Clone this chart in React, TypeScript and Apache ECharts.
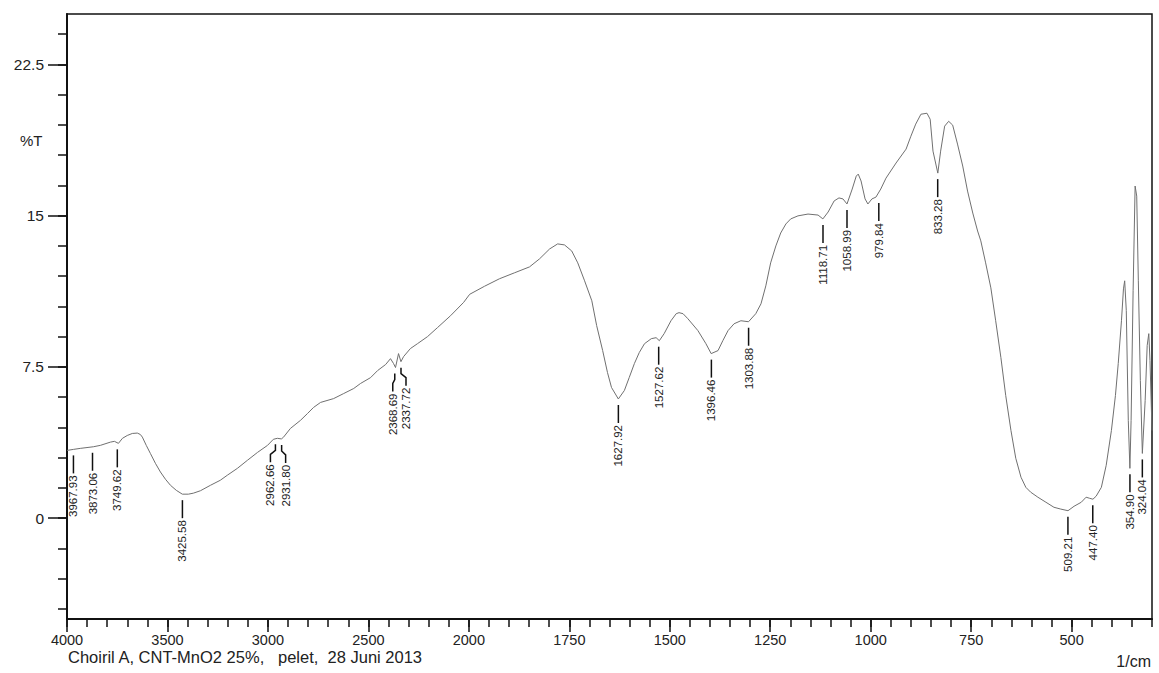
import React, { useEffect, useRef } from "react";
import * as echarts from "echarts";

// ---- Data ----
const wavenumbers = [
  4000, 3968, 3934, 3869, 3834, 3784, 3764, 3744, 3724, 3700, 3675, 3650, 3635, 3625, 3605, 3585,
  3560, 3535, 3510, 3485, 3456, 3426, 3396, 3371, 3336, 3286, 3237, 3202, 3152, 3102, 3052, 3002,
  2973, 2953, 2933, 2923, 2888, 2838, 2803, 2773, 2738, 2673, 2623, 2573, 2539, 2489, 2454, 2414,
  2390, 2375, 2365, 2350, 2338, 2325, 2291, 2256, 2206, 2156, 2091, 2026, 1998, 1961, 1924, 1886,
  1849, 1824, 1799, 1779, 1762, 1744, 1729, 1712, 1694, 1682, 1667, 1655, 1645, 1628, 1613, 1601,
  1588, 1576, 1563, 1546, 1534, 1526, 1514, 1497, 1484, 1477, 1467, 1455, 1430, 1410, 1397, 1380,
  1368, 1355, 1340, 1323, 1304, 1286, 1273, 1261, 1249, 1236, 1224, 1211, 1199, 1181, 1156, 1131,
  1119, 1106, 1091, 1079, 1069, 1059, 1046, 1036, 1031, 1024, 1014, 1007, 997, 987, 975, 962,
  937, 912, 900, 888, 875, 860, 852, 845, 833, 826, 816, 806, 796, 784, 771, 759,
  746, 734, 726, 714, 701, 689, 676, 664, 651, 639, 626, 614, 602, 584, 564, 544,
  527, 509, 494, 476, 464, 456, 447, 439, 426, 414, 401, 391, 384, 376, 371, 368,
  364, 359, 355, 352, 347, 342, 338, 334, 329, 324, 317, 312, 308, 305, 300,
];
const transmittance = [
  3.36, 3.41, 3.46, 3.54, 3.61, 3.77, 3.81, 3.71, 3.96, 4.1, 4.2, 4.22, 4.15, 4.02, 3.6, 3.21,
  2.72, 2.29, 1.93, 1.63, 1.38, 1.19, 1.19, 1.24, 1.36, 1.63, 1.88, 2.13, 2.47, 2.87, 3.26, 3.61,
  3.91, 3.96, 3.93, 4.01, 4.45, 4.85, 5.19, 5.49, 5.74, 5.93, 6.18, 6.43, 6.68, 6.97, 7.32, 7.62,
  7.91, 7.67, 7.47, 8.16, 7.76, 8.01, 8.41, 8.65, 9.0, 9.45, 10.04, 10.7, 11.1, 11.5, 11.87, 12.17,
  12.46, 12.86, 13.35, 13.6, 13.55, 13.25, 12.66, 11.77, 10.78, 9.55, 8.31, 7.22, 6.48, 5.91, 6.33, 6.97,
  7.67, 8.21, 8.65, 8.9, 8.95, 8.8, 9.15, 9.79, 10.14, 10.19, 10.14, 9.89, 9.3, 8.65, 8.16, 8.31,
  8.8, 9.3, 9.64, 9.79, 9.74, 10.14, 10.63, 11.52, 12.66, 13.5, 14.14, 14.59, 14.84, 14.99, 15.08, 15.03,
  14.84, 15.18, 15.73, 15.88, 15.83, 15.58, 16.32, 16.96, 17.06, 16.72, 15.83, 15.58, 15.83, 15.92, 16.32, 16.86,
  17.61, 18.3, 18.94, 19.54, 20.03, 20.08, 19.78, 18.2, 17.11, 18.2, 19.44, 19.68, 19.49, 18.55, 17.46, 16.22,
  15.13, 14.24, 13.75, 12.66, 11.42, 9.79, 7.96, 6.08, 4.35, 2.97, 2.03, 1.53, 1.29, 1.04, 0.79, 0.54,
  0.45, 0.37, 0.59, 0.79, 1.04, 0.99, 0.94, 1.09, 1.53, 2.62, 4.35, 6.08, 7.67, 9.79, 11.37, 11.77,
  10.29, 4.85, 2.47, 4.85, 11.28, 16.47, 15.97, 11.77, 6.82, 3.21, 5.84, 8.56, 9.15, 7.81, 4.35,
];

const peakWavenumbers = [
  3967.93, 3873.06, 3749.62, 3425.58, 2962.66, 2931.8, 2368.69, 2337.72, 1627.92, 1527.62,
  1396.46, 1303.88, 1118.71, 1058.99, 979.84, 833.28, 509.21, 447.4, 354.9, 324.04,
];
const peakTransmittance = [
  3.41, 3.54, 3.71, 1.19, 3.96, 3.93, 7.47, 7.76, 5.91, 8.8,
  8.16, 9.74, 14.84, 15.58, 15.92, 17.11, 0.37, 0.94, 2.47, 3.21,
];
const peakLabels = [
  "3967.93", "3873.06", "3749.62", "3425.58", "2962.66", "2931.80", "2368.69", "2337.72", "1627.92", "1527.62",
  "1396.46", "1303.88", "1118.71", "1058.99", "979.84", "833.28", "509.21", "447.40", "354.90", "324.04",
];

const xTickLabels = [4000, 3500, 3000, 2500, 2000, 1750, 1500, 1250, 1000, 750, 500];
const yTickLabels = [0, 7.5, 15, 22.5];

const footerText = "Choiril A, CNT-MnO2 25%,   pelet,  28 Juni 2013";
const unitText = "1/cm";
const yName = "%T";

// ---- Layout / style config ----
const leaderShift: Record<string, number> = {
  "2962.66": -5,
  "2931.80": 4,
  "2368.69": -2,
  "2337.72": 5,
};
const FONT = "'Liberation Sans', Arial, sans-serif";

// Shimadzu-style axis: 4000-2000 at half scale, below 2000 at full scale
const toPos = (wn: number) => (wn >= 2000 ? (4000 - wn) / 2 : 1000 + (2000 - wn));
const fromPos = (p: number) => (p <= 1000 ? 4000 - 2 * p : 2000 - (p - 1000));

export default function App() {
  const ref = useRef<HTMLDivElement>(null);

  useEffect(() => {
    if (!ref.current) return;
    const chart = echarts.init(ref.current, null, { renderer: "svg" });

    const xMajor = xTickLabels.map(toPos);
    const xMinor: number[] = [];
    for (let w = 4000; w > 2000; w -= 100) xMinor.push(toPos(w));
    for (let w = 2000; w >= 300; w -= 50) xMinor.push(toPos(w));
    const yMinor: number[] = [];
    for (let v = -4.5; v <= 24.01; v += 1.5) yMinor.push(Math.round(v * 10) / 10);

    const lineData = wavenumbers.map((w, i) => [toPos(w), transmittance[i]]);
    const peakData = peakWavenumbers.map((w, i) => [toPos(w), peakTransmittance[i]]);

    chart.setOption({
      animation: false,
      grid: {
        left: 67,
        right: 7,
        top: 14,
        bottom: 54,
        show: true,
        borderColor: "#111",
        borderWidth: 1.5,
        backgroundColor: "transparent",
      },
      xAxis: [
        {
          type: "value",
          min: 0,
          max: toPos(300),
          position: "bottom",
          axisLine: { show: true, onZero: false, lineStyle: { color: "#111", width: 2 } },
          axisTick: {
            show: true,
            customValues: xMajor,
            length: 13,
            lineStyle: { color: "#111", width: 1.5 },
          },
          axisLabel: {
            show: true,
            customValues: xMajor,
            margin: 14,
            fontSize: 14.5,
            lineHeight: 14.5,
            fontFamily: FONT,
            color: "#222",
            formatter: (v: number) => String(Math.round(fromPos(v))),
          },
          splitLine: { show: false },
        },
        {
          type: "value",
          min: 0,
          max: toPos(300),
          position: "bottom",
          offset: 0,
          axisLine: { show: false, onZero: false },
          axisTick: {
            show: true,
            customValues: xMinor,
            length: 8,
            lineStyle: { color: "#111", width: 1.5 },
          },
          axisLabel: { show: false },
          splitLine: { show: false },
        },
      ],
      yAxis: [
        {
          type: "value",
          min: -5,
          max: 25,
          position: "left",
          axisLine: { show: true, onZero: false, lineStyle: { color: "#111", width: 2 } },
          axisTick: {
            show: true,
            customValues: yTickLabels,
            length: 19,
            lineStyle: { color: "#111", width: 1.5 },
          },
          axisLabel: {
            show: true,
            customValues: yTickLabels,
            margin: 23,
            fontSize: 15.5,
            fontFamily: FONT,
            color: "#222",
            formatter: (v: number) => String(v),
          },
          splitLine: { show: false },
        },
        {
          type: "value",
          min: -5,
          max: 25,
          position: "left",
          offset: 0,
          axisLine: { show: false, onZero: false },
          axisTick: {
            show: true,
            customValues: yMinor,
            length: 9,
            lineStyle: { color: "#111", width: 1.5 },
          },
          axisLabel: { show: false },
          splitLine: { show: false },
        },
      ],
      series: [
        {
          type: "line",
          xAxisIndex: 0,
          yAxisIndex: 0,
          data: lineData,
          showSymbol: false,
          symbol: "none",
          lineStyle: { color: "#707070", width: 1 },
          silent: true,
        },
        {
          type: "custom",
          xAxisIndex: 0,
          yAxisIndex: 0,
          data: peakData,
          silent: true,
          clip: false,
          renderItem: (params: any, api: any) => {
            const pt = api.coord([api.value(0), api.value(1)]);
            const label = peakLabels[params.dataIndex];
            const dx = leaderShift[label] || 0;
            const x = pt[0];
            const y = pt[1];
            const stroke = { stroke: "#111", lineWidth: 1.5, fill: "none" };
            const children: any[] = [];
            if (dx === 0) {
              children.push({
                type: "line",
                shape: { x1: x, y1: y + 6, x2: x, y2: y + 24 },
                style: stroke,
              });
            } else {
              children.push({
                type: "polyline",
                shape: {
                  points: [
                    [x, y + 6],
                    [x, y + 12],
                    [x + dx, y + 16],
                    [x + dx, y + 24],
                  ],
                },
                style: stroke,
              });
            }
            children.push({
              type: "text",
              x: x + dx,
              y: y + 26,
              rotation: Math.PI / 2,
              style: {
                text: label,
                align: "right",
                verticalAlign: "middle",
                fontSize: 11.5,
                fontFamily: FONT,
                fill: "#222",
              },
            });
            return { type: "group", children };
          },
        },
      ],
      graphic: [
        {
          type: "text",
          left: 20,
          top: 133,
          style: { text: yName, fontSize: 15, fontFamily: FONT, fill: "#222" },
        },
        {
          type: "text",
          left: 68,
          top: 648,
          style: { text: footerText, fontSize: 16.5, lineHeight: 16.5, fontFamily: FONT, fill: "#222" },
        },
        {
          type: "text",
          right: 8,
          top: 653,
          style: { text: unitText, fontSize: 16, lineHeight: 16, fontFamily: FONT, fill: "#222" },
        },
      ],
    });

    return () => chart.dispose();
  }, []);

  return (
    <div
      ref={ref}
      style={{ position: "absolute", left: 0, top: 0, width: 1159, height: 673, background: "#fff" }}
    />
  );
}
